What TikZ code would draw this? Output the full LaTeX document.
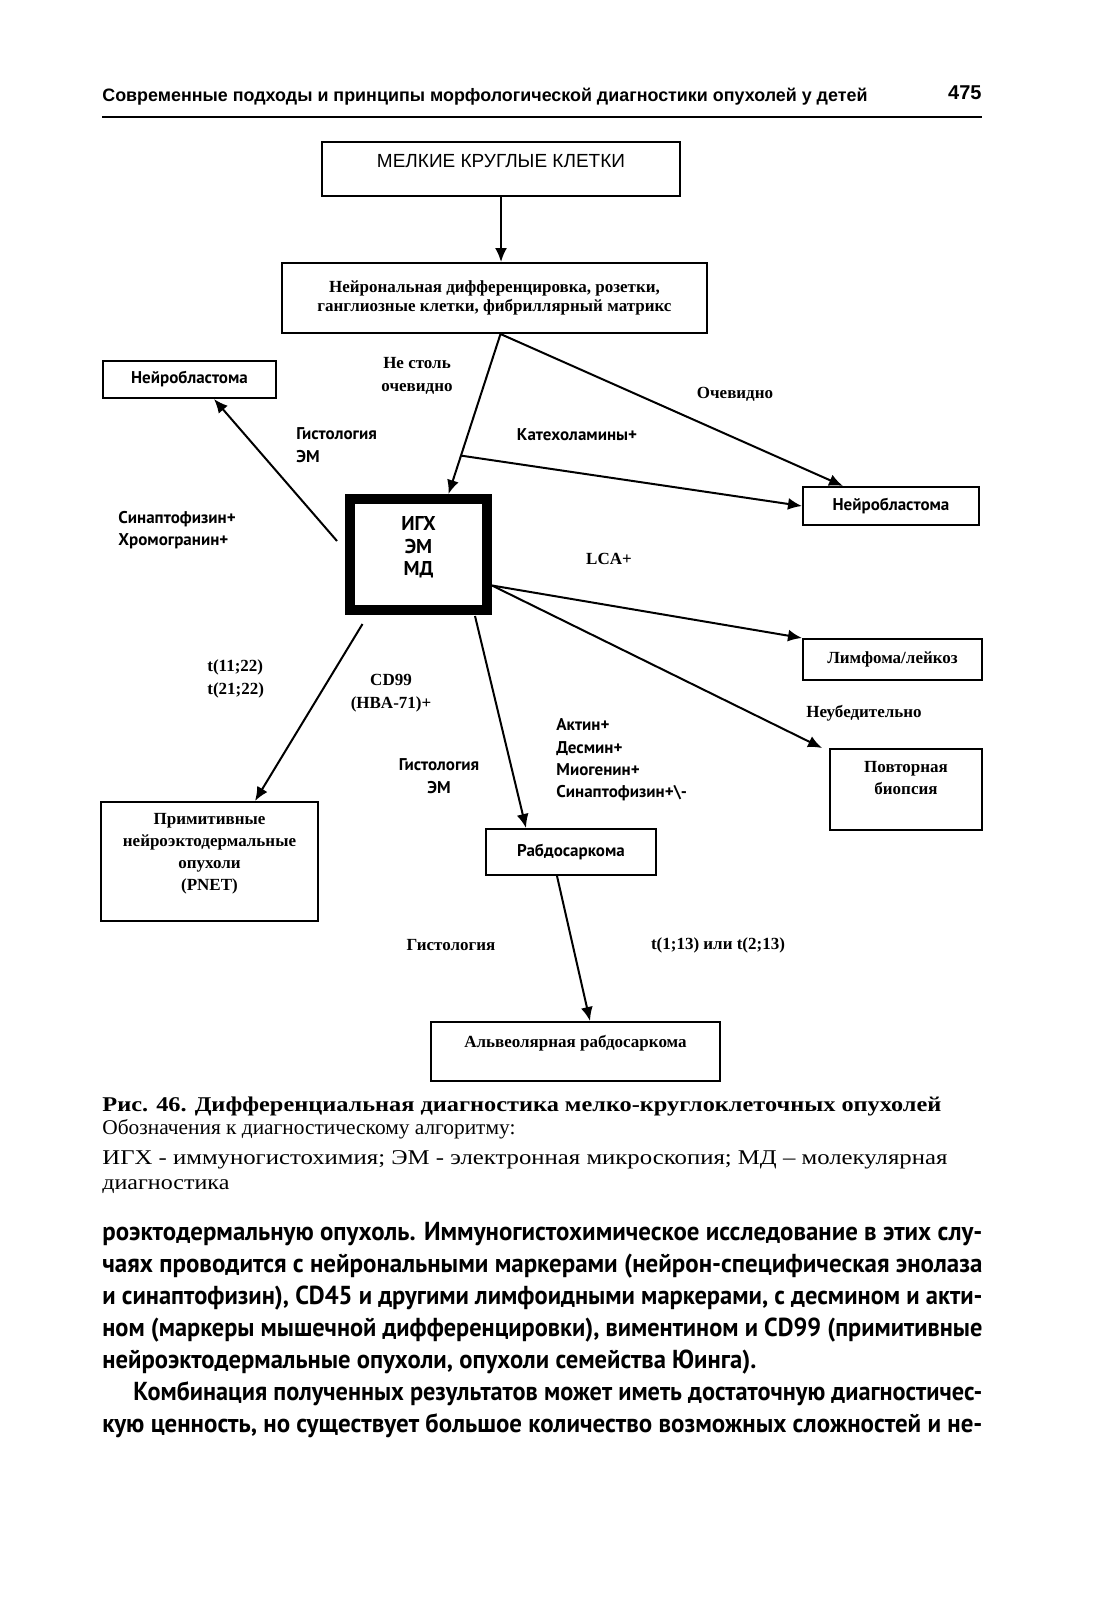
\documentclass[tikz,border=0pt]{standalone}
\usepackage{fontspec}
\setmainfont{Liberation Serif}
\setsansfont{PT Sans}
\newfontfamily\hdrfont{Liberation Sans}
\usepackage{graphicx}
\usetikzlibrary{arrows.meta,calc,positioning}

\newcommand{\fitw}[2]{\resizebox{#1}{\height}{#2}}

\tikzset{
  node-box/.style={draw,line width=1pt,inner sep=1pt,align=center,
    font=\rmfamily\bfseries\fontsize{8.5}{9.5}\selectfont},
  node-box-sf/.style={node-box,font=\sffamily\bfseries\fontsize{8.5}{11}\selectfont},
  node-main/.style={draw,line width=5pt,align=center,inner sep=0pt},
  box-text/.style={align=center,inner sep=0pt,
    font=\rmfamily\bfseries\fontsize{8.5}{11}\selectfont},
  arrow/.style={-{Latex[length=7pt,width=6pt]},line width=1pt},
  lbl-rm/.style={align=center,inner sep=0pt,
    font=\rmfamily\bfseries\fontsize{8.5}{11.2}\selectfont},
  lbl-sf/.style={align=left,inner sep=0pt,
    font=\sffamily\bfseries\fontsize{8.5}{11.2}\selectfont},
  page-line/.style={anchor=base west,inner sep=0pt},
}

\begin{document}
\begin{tikzpicture}[x=0.5pt,y=-0.5pt]
  \useasboundingbox[fill=white] (0,0) rectangle (1112,1600);

  % колонтитул
  \node[page-line,font=\hdrfont\bfseries\fontsize{9}{10}\selectfont] (hdr) at (102,102)
    {\fitw{382.5pt}{Современные подходы и принципы морфологической диагностики опухолей у детей}};
  \node[anchor=base east,inner sep=0pt,font=\hdrfont\bfseries\fontsize{10}{11}\selectfont] (pgnum) at (982,100) {475};
  \draw[line width=1pt] (102,117) -- (982,117);

  % блоки
  \node[node-box,minimum width=179pt,minimum height=27pt,
    label={[box-text,font=\hdrfont\fontsize{9.5}{10}\selectfont,yshift=4pt]center:МЕЛКИЕ КРУГЛЫЕ КЛЕТКИ}] (cells) at (501,169) {};
  \node[node-box,minimum width=212.5pt,minimum height=35pt] (neuro) at (494.5,298)
    {Нейрональная дифференцировка, розетки,\\ганглиозные клетки, фибриллярный матрикс};
  \node[node-box-sf,minimum width=86.5pt,minimum height=18.5pt] (nbL) at (189.5,379.5) {Нейробластома};
  \node[node-box-sf,minimum width=88pt,minimum height=19pt] (nbR) at (891,506) {Нейробластома};
  \node[node-main,minimum width=68.5pt,minimum height=55.5pt,
    label={[box-text,font=\sffamily\bfseries\fontsize{10}{11.2}\selectfont,yshift=3.5pt]center:ИГХ\\ЭМ\\МД}] (igh) at (418.5,554.5) {};
  \node[node-box,minimum width=89.5pt,minimum height=20.5pt] (lymph) at (892.5,659.5) {Лимфома/лейкоз};
  \node[node-box,minimum width=76pt,minimum height=40.5pt,
    label={[box-text,yshift=5.75pt]center:Повторная\\биопсия}] (rebio) at (906,789.5) {};
  \node[node-box,minimum width=108.5pt,minimum height=59.5pt,
    label={[box-text,yshift=4pt]center:Примитивные\\нейроэктодермальные\\опухоли\\(PNET)}] (pnet) at (209.5,861.5) {};
  \node[node-box-sf,minimum width=85pt,minimum height=23pt] (rhabdo) at (571,852) {Рабдосаркома};
  \node[node-box,minimum width=144.5pt,minimum height=29.5pt,
    label={[box-text,yshift=4.25pt]center:Альвеолярная рабдосаркома}] (alv) at (575.5,1051.5) {};

  % стрелки
  \draw[arrow] (cells.south) -- (cells.south |- neuro.north);
  \coordinate (nsplit) at ($(neuro.south)+(6,0)$);
  \draw[arrow] (nsplit) -- coordinate[pos=0.76] (kat) ($(igh.north)+(30,0)$);
  \draw[arrow] (kat) -- (nbR.west);
  \draw[arrow] (nsplit) -- ($(nbR.north)+(-48,0)$);
  \draw[arrow] ($(igh.west)+(-8,-13.5)$) -- ($(nbL.south)+(24.5,0)$);
  \draw[arrow] ($(igh.east)+(0,31)$) -- (lymph.north west);
  \draw[arrow] ($(igh.east)+(0,31)$) -- ($(rebio.north west)+(-7,0)$);
  \draw[arrow] ($(igh.south)+(-56,9)$) -- ($(pnet.north)+(45.5,0)$);
  \draw[arrow] ($(igh.south)+(56.5,1)$) -- ($(rhabdo.north)+(-45,0)$);
  \draw[arrow] ($(rhabdo.south)+(-14,0)$) -- ($(alv.north)+(14.5,0)$);

  % подписи
  \node[lbl-rm] (notobv) at (417,376) {Не столь\\очевидно};
  \node[lbl-rm] (obv) at (735,394) {Очевидно};
  \node[lbl-sf] (catech) at (577,435) {Катехоламины+};
  \node[lbl-sf,anchor=west] (hist1) at (296,445) {Гистология\\ЭМ};
  \node[lbl-sf,anchor=west] (synchr) at (118,530) {Синаптофизин+\\Хромогранин+};
  \node[lbl-rm] (lca) at (609,559) {LCA+};
  \node[lbl-rm,align=left,anchor=west] (tl1) at (207,679) {t(11;22)\\t(21;22)};
  \node[lbl-rm] (cd99) at (391,693) {CD99\\(HBA-71)+};
  \node[lbl-sf,align=center] (hist2) at (439,776) {Гистология\\ЭМ};
  \node[lbl-sf,anchor=west] (myo) at (556,760) {Актин+\\Десмин+\\Миогенин+\\Синаптофизин+\textbackslash-};
  \node[lbl-rm] (unconv) at (864,713) {Неубедительно};
  \node[lbl-rm] (hist3) at (451,945) {Гистология};
  \node[lbl-rm] (tl2) at (718,945) {t(1;13) или t(2;13)};

  % подпись к рисунку
  \node[page-line,font=\rmfamily\bfseries\fontsize{10.5}{12}\selectfont] (capttl) at (102,1111)
    {\fitw{419.5pt}{Рис. 46. Дифференциальная диагностика мелко-круглоклеточных опухолей}};
  \node[page-line,font=\rmfamily\fontsize{10.5}{12}\selectfont] (capl2) at (102,1134)
    {\fitw{206.5pt}{Обозначения к диагностическому алгоритму:}};
  \node[page-line,font=\rmfamily\fontsize{10.5}{12}\selectfont] (capl3) at (102,1164)
    {\fitw{422.5pt}{ИГХ - иммуногистохимия; ЭМ - электронная микроскопия; МД – молекулярная}};
  \node[page-line,font=\rmfamily\fontsize{10.5}{12}\selectfont] (capl4) at (102,1189)
    {\fitw{63.5pt}{диагностика}};

  % текст страницы
  \node[anchor=north west,inner sep=0pt,align=left,
    font=\sffamily\bfseries\fontsize{13}{16}\selectfont] (body) at (102,1222) {%
    \fitw{440pt}{роэктодермальную опухоль. Иммуногистохимическое исследование в этих слу-}\\
    \fitw{440pt}{чаях проводится с нейрональными маркерами (нейрон-специфическая энолаза}\\
    \fitw{440pt}{и синаптофизин), CD45 и другими лимфоидными маркерами, с десмином и акти-}\\
    \fitw{440pt}{ном (маркеры мышечной дифференцировки), виментином и CD99 (примитивные}\\
    \fitw{327pt}{нейроэктодермальные опухоли, опухоли семейства Юинга).}\\
    \hspace*{15.5pt}\fitw{424.5pt}{Комбинация полученных результатов может иметь достаточную диагностичес-}\\
    \fitw{440pt}{кую ценность, но существует большое количество возможных сложностей и не-}};
\end{tikzpicture}
\end{document}
